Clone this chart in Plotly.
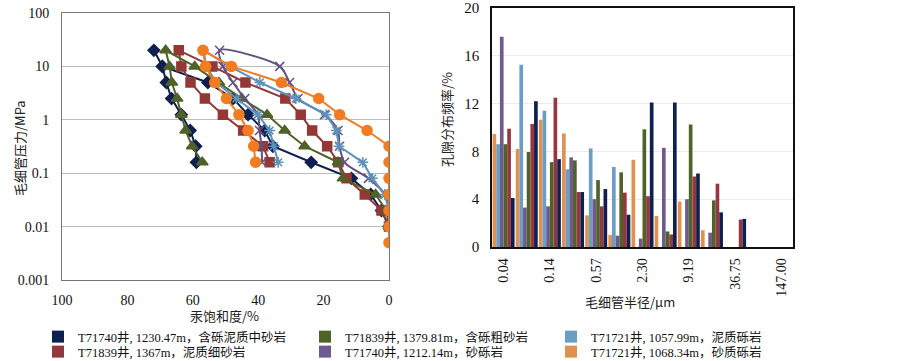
import plotly.graph_objects as go

# ---------------- data: capillary pressure curves ----------------
P_INJ = [0.005, 0.01, 0.02, 0.04, 0.08, 0.16, 0.32, 0.63, 1.25, 2.5, 5, 10, 20]
P_WD = [10, 5, 2.5, 1.25, 0.63, 0.32, 0.16]

navy_inj = [None, 0.0, 2.3, 5.6, 11.5, 23.8, 35.5, 38.0, 43.1, 47.7, 55.4, 69.3, 71.9]
navy_wd = [69.3, 68.1, 66.5, 63.5, 60.8, 59.1, 58.9]
red_inj = [None, 0.0, 2.3, 7.4, 13.0, 15.5, 18.9, 23.5, 27.0, 31.7, 43.9, 54.0, 64.3]
red_wd = [63.5, 60.7, 56.3, 50.8, 44.6, 38.5, 36.5]
green_inj = [None, 0.0, 0.8, 4.1, 14.1, 15.6, 25.8, 31.9, 37.3, 45.0, 52.0, 59.4, 68.3]
green_wd = [67.1, 66.4, 64.8, 63.5, 62.2, 60.2, 57.1]
purple_inj = [None, None, 0.0, 1.2, 6.3, 13.6, 15.1, 15.6, 19.7, 27.8, 30.4, 33.4, 51.8]
purple_wd = [50.8, 47.7, 44.1, 40.1, 39.6, 39.0, 38.8]
blue_inj = [None, None, 0.0, 1.3, 5.1, 8.0, 15.3, 16.1, 19.2, 28.5, 39.5, 48.7, 56.7]
blue_wd = [55.9, 52.8, 46.7, 40.1, 36.5, 35.2, 33.9]
orange_inj = [0.0, 0.0, 0.0, 0.0, 0.0, 0.0, 0.0, 6.7, 15.1, 21.5, 32.9, 48.2, 56.9]
orange_wd = [56.1, 53.3, 49.7, 45.9, 43.1, 41.4, 40.8]

# ---------------- data: pore size distribution ----------------
radius_cats = ["0.04", "0.07", "0.14", "0.29", "0.57", "1.15", "2.30", "4.59",
               "9.19", "18.38", "36.75", "73.50", "147.00"]
radius_ticks = ["0.04", "0.14", "0.57", "2.30", "9.19", "36.75", "147.00"]

freq_orange = [9.45, 8.2, 10.65, 9.5, 2.65, 1.0, 7.3, 2.6, 3.8, 1.4, 0, 0, 0]
freq_blue = [8.6, 15.25, 11.4, 6.5, 8.25, 6.7, 0, 0, 0, 0, 0, 0, 0]
freq_purple = [17.6, 3.3, 3.4, 7.5, 4.0, 0.95, 0.7, 8.3, 4.0, 1.2, 0, 0, 0]
freq_green = [8.6, 7.95, 7.1, 7.25, 5.6, 6.25, 9.85, 1.3, 10.25, 3.9, 0, 0, 0]
freq_red = [9.9, 10.3, 12.5, 4.6, 3.4, 4.55, 4.25, 1.05, 5.9, 5.3, 2.3, 0, 0]
freq_navy = [4.1, 12.2, 7.35, 4.6, 4.85, 2.7, 12.1, 12.1, 6.15, 2.9, 2.35, 0, 0]

names = {
    "navy": "T71740井, 1230.47m，含砾泥质中砂岩",
    "red": "T71839井, 1367m，泥质细砂岩",
    "green": "T71839井, 1379.81m，含砾粗砂岩",
    "purple": "T71740井, 1212.14m，砂砾岩",
    "blue": "T71721井, 1057.99m，泥质砾岩",
    "orange": "T71721井, 1068.34m，砂质砾岩",
}

line_col = {"navy": "#0f1f4f", "red": "#953735", "green": "#4f6228",
            "purple": "#65517f", "blue": "#5b93bd", "orange": "#f47c20"}
bar_col = {"navy": "#0f1f4f", "red": "#953740", "green": "#4f6228",
           "purple": "#6e5a8c", "blue": "#6a9ec4", "orange": "#e0904f"}
symbols = {"navy": ("diamond", 9), "red": ("square", 9), "green": ("triangle-up", 10),
           "purple": ("x-thin-open", 9), "blue": ("asterisk-open", 9), "orange": ("circle", 10)}

curves = {"navy": (navy_inj, navy_wd), "red": (red_inj, red_wd), "green": (green_inj, green_wd),
          "purple": (purple_inj, purple_wd), "blue": (blue_inj, blue_wd),
          "orange": (orange_inj, orange_wd)}

SERIF = "Liberation Serif, Times New Roman, Noto Sans CJK SC, serif"

fig = go.Figure()

for key in ["navy", "red", "green", "purple", "blue", "orange"]:
    inj, wd = curves[key]
    xs, ys = [], []
    for p, s in zip(P_INJ, inj):
        if s is not None:
            xs.append(s)
            ys.append(p)
    xs += wd
    ys += P_WD
    sym, sz = symbols[key]
    fig.add_trace(go.Scatter(
        x=xs, y=ys, mode="lines+markers", showlegend=False,
        line=dict(color=line_col[key], width=2,
                  shape="spline" if key == "purple" else "linear", smoothing=0.8),
        marker=dict(symbol=sym, size=sz, color=line_col[key],
                    line=dict(color=line_col[key], width=1.5)),
        xaxis="x", yaxis="y"))

bars = [("orange", freq_orange), ("blue", freq_blue), ("purple", freq_purple),
        ("green", freq_green), ("red", freq_red), ("navy", freq_navy)]
legend_slot = {"navy": "legend", "red": "legend2", "green": "legend3",
               "purple": "legend4", "blue": "legend5", "orange": "legend6"}
for key, vals in bars:
    fig.add_trace(go.Bar(
        x=radius_cats, y=vals, name=names[key], marker=dict(color=bar_col[key], line=dict(width=0)),
        xaxis="x2", yaxis="y2", legend=legend_slot[key]))

W, H = 903, 361
def px(x):
    return x / W
def py(y):
    return 1 - y / H

leg_common = dict(font=dict(family=SERIF, size=12.5, color="#111"), bgcolor="rgba(0,0,0,0)",
                  xanchor="left", yanchor="middle", orientation="v", itemwidth=30)
legpos = {"legend": (38, 337), "legend2": (38, 352), "legend3": (305, 337),
          "legend4": (305, 352), "legend5": (551, 337), "legend6": (551, 352)}
legends = {k: dict(leg_common, x=px(v[0]), y=py(v[1])) for k, v in legpos.items()}

TITLE_FONT = dict(family="Noto Sans CJK SC", size=13, color="#222")
fig.update_layout(
    template="none",
    width=W, height=H, margin=dict(l=0, r=0, t=0, b=0, autoexpand=False),
    paper_bgcolor="white", plot_bgcolor="white",
    font=dict(family=SERIF, size=14, color="#111"),
    barmode="group", bargap=0.05, bargroupgap=0,
    xaxis=dict(domain=[px(62), px(389)], range=[100, 0], tickvals=[100, 80, 60, 40, 20, 0],
               showgrid=False, zeroline=False, showline=True, linecolor="#777", linewidth=1,
               mirror=True, ticks="", tickfont=dict(family=SERIF, size=14), anchor="y",
               ticklabelstandoff=7, automargin=False),
    yaxis=dict(domain=[py(280), py(13)], type="log", range=[-3, 2],
               tickvals=[0.001, 0.01, 0.1, 1, 10, 100],
               ticktext=["0.001", "0.01", "0.1", "1", "10", "100"],
               showgrid=True, gridcolor="#bdbdbd", gridwidth=1, zeroline=False,
               showline=True, linecolor="#777", linewidth=1, mirror=True, ticks="",
               ticklabelstandoff=9, tickfont=dict(family=SERIF, size=14), anchor="x",
               ticklabeloverflow="allow", automargin=False),
    xaxis2=dict(domain=[px(492), px(793)], type="category", categoryorder="array",
                categoryarray=radius_cats, tickvals=radius_ticks, ticktext=radius_ticks,
                tickangle=-90, showgrid=False, zeroline=False, showline=True,
                linecolor="#111", linewidth=1.5, mirror=True, ticks="",
                ticklabelstandoff=4, tickfont=dict(family=SERIF, size=14), anchor="y2",
                automargin=False),
    yaxis2=dict(domain=[py(247), py(8)], range=[0, 20], tickvals=[0, 4, 8, 12, 16, 20],
                showgrid=True, gridcolor="#ebebeb", zeroline=False, showline=True,
                linecolor="#111", linewidth=1.5, mirror=True, ticks="",
                ticklabelstandoff=8, tickfont=dict(family=SERIF, size=15), anchor="x2",
                ticklabeloverflow="allow", automargin=False),
    annotations=[
        dict(text="毛细管压力/MPa", x=px(19), y=py(148), xref="paper", yref="paper",
             xanchor="center", yanchor="middle",
             textangle=-90, showarrow=False, font=TITLE_FONT),
        dict(text="汞饱和度/%", x=px(224), y=py(315), xref="paper", yref="paper",
             xanchor="center", yanchor="middle", showarrow=False, font=TITLE_FONT),
        dict(text="孔隙分布频率/%", x=px(447), y=py(120), xref="paper", yref="paper",
             xanchor="center", yanchor="middle",
             textangle=-90, showarrow=False, font=TITLE_FONT),
        dict(text="毛细管半径/μm", x=px(630), y=py(301), xref="paper", yref="paper",
             xanchor="center", yanchor="middle", showarrow=False, font=TITLE_FONT),
    ],
    **legends,
)

fig.write_html("out.html", config={"displayModeBar": False},
               post_script="document.body.style.margin='0px';")
